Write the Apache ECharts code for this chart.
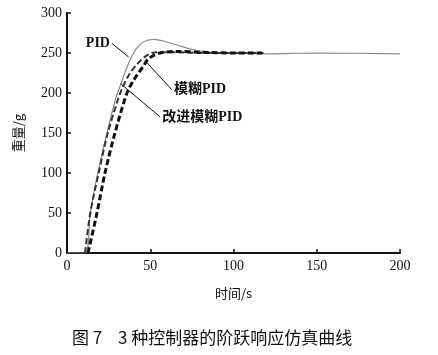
<!DOCTYPE html>
<html><head><meta charset="utf-8">
<script src="https://cdn.jsdelivr.net/npm/echarts@6/dist/echarts.min.js"></script>
<style>html,body{margin:0;padding:0;background:#fff}#c{width:438px;height:355px}</style>
</head><body><div id="c"></div>
<script>
const xTicks = [0, 50, 100, 150, 200];
const yTicks = [0, 50, 100, 150, 200, 250, 300];
const pidT = [0, 10.8, 14, 18.5, 24, 29, 33, 36, 40, 43, 47, 52, 58, 66, 76, 85, 100, 120, 150, 200];
const pidV = [0, 0, 50, 100, 150, 191, 215, 232, 250, 259, 265, 267, 265, 260, 254, 251, 250, 249, 250, 249];
const impT = [10.8, 14, 19, 24.5, 30, 33, 37, 42, 48, 54, 65, 80, 100, 118];
const impV = [0, 50, 100, 150, 188, 205, 222, 236, 247, 251, 251, 250, 250, 250];
const fuzT = [12.6, 18, 22.8, 28.8, 36, 40, 46, 49, 56, 66, 80, 100, 117];
const fuzV = [0, 50, 100, 150, 200, 216, 234, 243, 250, 252, 251, 250, 250];
const zip = (t, v) => t.map((x, i) => [x, v[i]]);

const serif = '"Liberation Serif", "Noto Sans CJK SC", serif';
const chart = echarts.init(document.getElementById('c'));
chart.setOption({
  animation: false,
  grid: { left: 67, right: 38, top: 13, bottom: 102 },
  xAxis: {
    type: 'value', min: 0, max: 200, interval: 50,
    axisLine: { lineStyle: { color: '#111', width: 2 } },
    axisTick: { inside: true, length: 4, lineStyle: { color: '#111', width: 1.5 } },
    axisLabel: { color: '#111', fontFamily: serif, fontSize: 14, margin: 6 },
    splitLine: { show: false },
    name: '时间/s', nameLocation: 'middle', nameGap: 34,
    nameTextStyle: { color: '#111', fontFamily: '"Noto Sans CJK SC"', fontSize: 13 }
  },
  yAxis: {
    type: 'value', min: 0, max: 300, interval: 50,
    axisLine: { show: true, lineStyle: { color: '#111', width: 2 } },
    axisTick: { show: true, inside: true, length: 4, lineStyle: { color: '#111', width: 1.5 } },
    axisLabel: { color: '#111', fontFamily: serif, fontSize: 14, margin: 5 },
    splitLine: { show: false },
    name: '重量/g', nameLocation: 'middle', nameGap: 42, nameRotate: 90,
    nameTextStyle: { color: '#111', fontFamily: '"Noto Sans CJK SC"', fontSize: 13 }
  },
  series: [
    { name: 'PID', type: 'line', data: zip(pidT, pidV), showSymbol: false, smooth: 0.3,
      lineStyle: { color: '#8a8a8a', width: 1.2 } },
    { name: '改进模糊PID', type: 'line', data: zip(impT, impV), showSymbol: false, smooth: 0.3,
      lineStyle: { color: '#333', width: 2, type: [6, 3] } },
    { name: '模糊PID', type: 'line', data: zip(fuzT, fuzV), showSymbol: false, smooth: 0.3,
      lineStyle: { color: '#111', width: 3, type: [6, 3] } }
  ]
});

function px(p) { return chart.convertToPixel({ gridIndex: 0 }, p); }
const notes = [
  { text: 'PID', at: [27, 262], tip: [37, 245], anchor: 'right', font: 'bold 14px "Liberation Serif"' },
  { text: '模糊PID', at: [63, 204], tip: [48, 238], anchor: 'left', font: 'bold 14px "Liberation Serif", "Noto Sans CJK SC"' },
  { text: '改进模糊PID', at: [56, 170], tip: [32, 212], anchor: 'left', font: 'bold 14px "Liberation Serif", "Noto Sans CJK SC"' }
];
const g = [];
notes.forEach(n => {
  const a = px(n.at), b = px(n.tip);
  g.push({ type: 'line', shape: { x1: a[0], y1: a[1], x2: b[0], y2: b[1] }, style: { stroke: '#111', lineWidth: 1 } });
  g.push({ type: 'text', x: n.anchor === 'right' ? a[0] - 2 : a[0] + 2, y: a[1],
    style: { text: n.text, font: n.font, fill: '#111', align: n.anchor === 'right' ? 'right' : 'left', verticalAlign: 'middle' } });
});
g.push({ type: 'text', x: 72, y: 338,
  style: { text: '图 7', font: '17px "Noto Sans CJK SC"', fill: '#111', verticalAlign: 'middle' } });
g.push({ type: 'text', x: 118, y: 338,
  style: { text: '3 种控制器的阶跃响应仿真曲线', font: '17px "Noto Sans CJK SC"', fill: '#111', verticalAlign: 'middle' } });
chart.setOption({ graphic: g });
</script></body></html>
